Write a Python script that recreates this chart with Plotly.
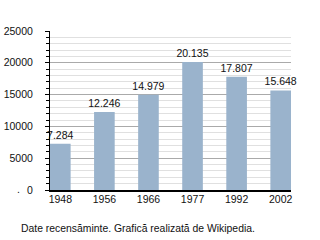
import plotly.graph_objects as go

years = ["1948", "1956", "1966", "1977", "1992", "2002"]
population = [7284, 12246, 14979, 20135, 17807, 15648]
labels = ["7.284", "12.246", "14.979", "20.135", "17.807", "15.648"]
caption = "Date recensăminte. Grafică realizată de Wikipedia."

font = "Liberation Sans, Arial, sans-serif"

fig = go.Figure(go.Bar(
    x=years, y=population, text=labels, textposition="outside",
    textfont=dict(size=10.5, color="#111111", family=font),
    marker=dict(color="#9ab3cc", line=dict(width=0)),
    width=0.468, cliponaxis=False, constraintext="none",
))

L, R, T, B = 50, 29, 31, 50
pw, ph = 320 - L - R, 240 - T - B

fig.update_layout(
    width=320, height=240,
    margin=dict(l=L, r=R, t=T, b=B, autoexpand=False),
    paper_bgcolor="white", plot_bgcolor="white",
    showlegend=False,
    font=dict(family=font, size=10.5, color="#111111"),
    xaxis=dict(type="category", range=[-0.234, 5.234], showline=True,
               linecolor="black", linewidth=2, ticks="", showgrid=False,
               tickfont=dict(size=10.5), ticklabelstandoff=-2, automargin=False),
    yaxis=dict(range=[0, 25000], tickvals=[0, 5000, 10000, 15000, 20000, 25000],
               showline=True, linecolor="black", linewidth=1,
               ticks="outside", ticklen=4, tickcolor="black",
               showgrid=True, gridcolor="#aaaaaa", gridwidth=1,
               zeroline=False, ticklabelstandoff=10, automargin=False,
               minor=dict(dtick=1000, ticks="outside", ticklen=3, tickcolor="black",
                          showgrid=True, gridcolor="#e0e0e0", gridwidth=1),
               tickformat="d"),
)
fig.add_annotation(text=caption, x=(19 - L) / pw, y=(240 - B - 228) / ph,
                   xref="paper", yref="paper", showarrow=False,
                   xanchor="left", yanchor="middle", font=dict(size=10.4, color="#111111"))
fig.add_annotation(text=".", x=(18 - L) / pw, y=(240 - B - 189) / ph, xref="paper",
                   yref="paper", showarrow=False, xanchor="center", yanchor="middle",
                   font=dict(size=10.5, color="#111111"))

fig.write_html("out.html")
